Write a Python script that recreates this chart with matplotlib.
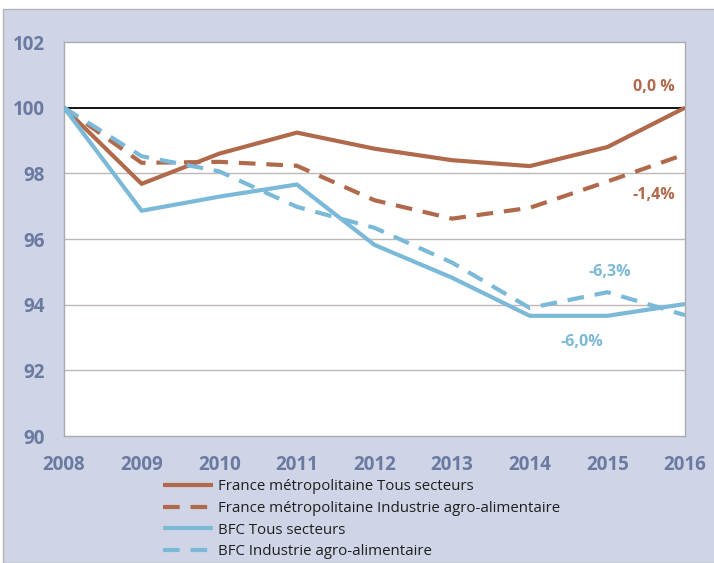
import matplotlib.pyplot as plt
from matplotlib.patches import Rectangle

years = [2008, 2009, 2010, 2011, 2012, 2013, 2014, 2015, 2016]
france_tous = [100, 97.68, 98.6, 99.24, 98.75, 98.4, 98.22, 98.8, 100]
france_iaa = [100, 98.32, 98.35, 98.23, 97.18, 96.62, 96.95, 97.75, 98.58]
bfc_tous = [100, 96.86, 97.29, 97.66, 95.82, 94.82, 93.66, 93.66, 94.02]
bfc_iaa = [100, 98.52, 98.06, 96.98, 96.34, 95.28, 93.9, 94.38, 93.68]

labels = ["France métropolitaine Tous secteurs",
          "France métropolitaine Industrie agro-alimentaire",
          "BFC Tous secteurs",
          "BFC Industrie agro-alimentaire"]
end_notes = ["0,0 %", "-1,4%", "-6,3%", "-6,0%"]

brown = '#B0694B'
blue = '#7AB9D8'
tick_color = '#6A7AA0'
bg = '#CFD5E6'

plt.rcParams['font.family'] = ['Open Sans', 'DejaVu Sans']

fig = plt.figure(figsize=(7.14, 5.63), dpi=100)
fig.patches.append(Rectangle((3 / 714, 0), 1, 1 - 9 / 563, transform=fig.transFigure,
                             facecolor=bg, edgecolor='#B5B5B5', lw=1, zorder=-1))

ax = fig.add_axes([64 / 714, 1 - 436 / 563, 621 / 714, 394 / 563])
ax.set_facecolor('white')

ax.plot(years, france_tous, color=brown, lw=3, solid_capstyle='butt', label=labels[0], zorder=4)
ax.plot(years, france_iaa, color=brown, lw=3, dashes=(4, 2.6), label=labels[1], zorder=4)
ax.plot(years, bfc_tous, color=blue, lw=3, solid_capstyle='butt', label=labels[2], zorder=4)
ax.plot(years, bfc_iaa, color=blue, lw=3, dashes=(4, 2.6), label=labels[3], zorder=4)

ax.axhline(100, color='black', lw=1.3, zorder=3)
for v in [92, 94, 96, 98]:
    ax.axhline(v, color='#BDB8B5', lw=1, zorder=1)

ax.set_xlim(2008, 2016)
ax.set_ylim(90, 102)
ax.set_xticks(years)
ax.set_yticks(range(90, 103, 2))
ax.tick_params(length=0, labelsize=13.5, labelcolor=tick_color)
ax.tick_params(axis='y', pad=14)
ax.tick_params(axis='x', pad=14)
for lab in ax.get_xticklabels() + ax.get_yticklabels():
    lab.set_fontweight('bold')
for s in ax.spines.values():
    s.set_color('#ABABAB')
    s.set_linewidth(1)

note_kw = dict(fontsize=11.5, fontweight='bold', ha='center', va='center')
ax.text(2015.6, 100.62, end_notes[0], color=brown, **note_kw)
ax.text(2015.6, 97.35, end_notes[1], color=brown, **note_kw)
ax.text(2015.03, 95.0, end_notes[2], color=blue, **note_kw)
ax.text(2014.67, 92.87, end_notes[3], color=blue, **note_kw)

leg = fig.legend(loc='upper left', bbox_to_anchor=(163 / 714, 1 - 479 / 563), frameon=False,
                 fontsize=10.8, handlelength=3.35, handletextpad=0.35, labelspacing=0.45,
                 borderpad=0, borderaxespad=0)
for t in leg.get_texts():
    t.set_color('#1E1E1E')

fig.savefig('out.png', dpi=100)
